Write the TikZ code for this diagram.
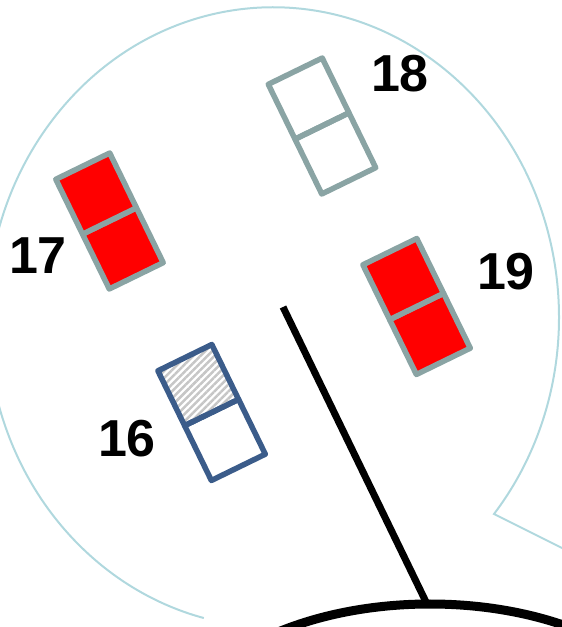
\documentclass[tikz,border=0pt]{standalone}
\usepackage{fontspec}
\setmainfont{Liberation Sans}
\usetikzlibrary{patterns.meta}
\definecolor{framegray}{RGB}{138,164,164}
\definecolor{boxblue}{RGB}{59,92,138}
\definecolor{bubbleblue}{RGB}{176,216,222}
\tikzset{
  cell/.style={rectangle,draw=framegray,line width=5.5pt,line join=round,
    minimum width=60pt,minimum height=61pt,inner sep=0pt,outer sep=0pt,rotate=26},
  redcell/.style={cell,fill=red},
  bluecell/.style={cell,draw=boxblue},
  hatched/.style={bluecell,pattern={Lines[angle=45,distance=5pt,line width=2.5pt]},
    pattern color=gray!45},
  seatno/.style={inner sep=0pt,font=\fontsize{52}{52}\selectfont\bfseries},
  bubble/.style={draw=bubbleblue,line width=2pt},
  pointer/.style={line width=7pt},
  rim/.style={line width=9pt}
}

\begin{document}
\begin{tikzpicture}[x=1pt,y=1pt]
\useasboundingbox (0,0) rectangle (562,627);
\clip (0,0) rectangle (562,627);

% Speech bubble with its tail
\coordinate (tip) at (494,113);
\coordinate (tailend) at (630,45);
\draw[bubble] (tailend) -- (tip)
  arc[start angle=-39.4,end angle=256,x radius=286,y radius=310];

% Pointer and rim
\coordinate (stick) at (283,320);
\node[draw=none,inner sep=0pt] (rimtop) at (427,23) {};
\draw[rim] (430,-127) ellipse [x radius=261,y radius=150];
\draw[pointer] (stick) -- (rimtop);

% Seats
\node[cell,anchor=north] (s18b) at (322,501) {};
\node[cell,anchor=south] (s18a) at (s18b.north) {};

\node[redcell,anchor=north] (s17b) at (109.5,406) {};
\node[redcell,anchor=south] (s17a) at (s17b.north) {};

\node[redcell,anchor=north] (s19b) at (416.6,320.5) {};
\node[redcell,anchor=south] (s19a) at (s19b.north) {};

\node[bluecell,anchor=north] (s16b) at (211.6,214.5) {};
\node[hatched,anchor=south] (s16a) at (s16b.north) {};

% Seat numbers
\node[seatno] (n18) at (400,553) {18};
\node[seatno] (n17) at (38,371) {17};
\node[seatno] (n19) at (506,355) {19};
\node[seatno] (n16) at (127,188) {16};

\end{tikzpicture}
\end{document}
